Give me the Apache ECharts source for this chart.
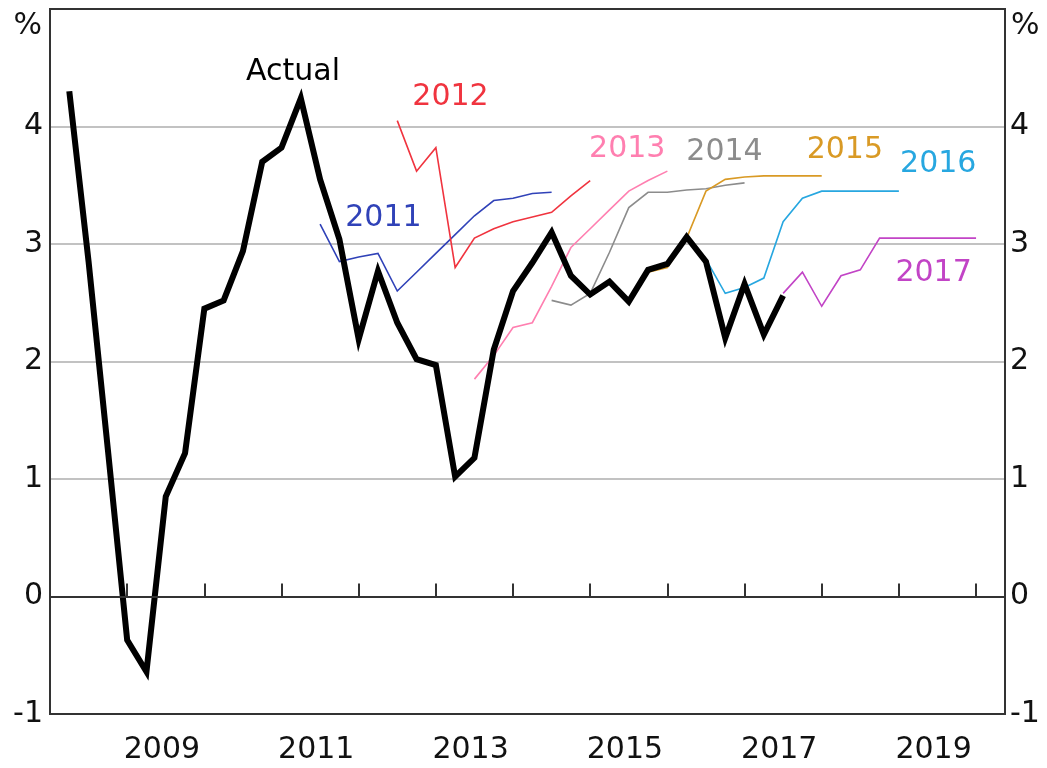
<!DOCTYPE html>
<html><head><meta charset="utf-8">
<script src="https://cdn.jsdelivr.net/npm/echarts@6/dist/echarts.min.js"></script>
<style>html,body{margin:0;padding:0;background:#fff}#c{width:1047px;height:768px}</style>
</head><body><div id="c"></div>
<script>
// Quarter-end dates (decimal years)
const quarters = [
  2008.25, 2008.5, 2008.75, 2009.0, 2009.25, 2009.5, 2009.75, 2010.0,
  2010.25, 2010.5, 2010.75, 2011.0, 2011.25, 2011.5, 2011.75, 2012.0,
  2012.25, 2012.5, 2012.75, 2013.0, 2013.25, 2013.5, 2013.75, 2014.0,
  2014.25, 2014.5, 2014.75, 2015.0, 2015.25, 2015.5, 2015.75, 2016.0,
  2016.25, 2016.5, 2016.75, 2017.0, 2017.25, 2017.5, 2017.75, 2018.0,
  2018.25, 2018.5, 2018.75, 2019.0, 2019.25, 2019.5, 2019.75, 2020.0
];

// Actual, starting 2008.25
const actualStart = 2008.25;
const actualValues = [
  4.30, 2.85, 1.25, -0.37, -0.64, 0.85, 1.22, 2.45,
  2.52, 2.94, 3.70, 3.82, 4.24, 3.55, 3.04, 2.19,
  2.77, 2.33, 2.02, 1.97, 1.02, 1.18, 2.10, 2.60,
  2.84, 3.10, 2.73, 2.57, 2.68, 2.51, 2.78, 2.83,
  3.06, 2.85, 2.20, 2.66, 2.23, 2.56
];

// Forecast vintages
const f2011Start = 2011.5;
const f2011 = [3.17, 2.85, 2.89, 2.92, 2.60, 2.76, 2.92, 3.08, 3.24, 3.37, 3.39, 3.43, 3.44];
const f2012Start = 2012.5;
const f2012 = [4.05, 3.62, 3.82, 2.80, 3.05, 3.13, 3.19, 3.23, 3.27, 3.41, 3.54];
const f2013Start = 2013.5;
const f2013 = [1.85, 2.05, 2.29, 2.33, 2.64, 2.97, 3.13, 3.29, 3.45, 3.54, 3.62];
const f2014Start = 2014.5;
const f2014 = [2.52, 2.48, 2.58, 2.93, 3.31, 3.44, 3.44, 3.46, 3.47, 3.50, 3.52];
const f2015Start = 2015.5;
const f2015 = [2.50, 2.76, 2.80, 3.05, 3.45, 3.55, 3.57, 3.58, 3.58, 3.58, 3.58];
const f2016Start = 2016.5;
const f2016 = [2.87, 2.58, 2.63, 2.71, 3.19, 3.39, 3.45, 3.45, 3.45, 3.45, 3.45];
const f2017Start = 2017.5;
const f2017 = [2.58, 2.76, 2.47, 2.73, 2.78, 3.05, 3.05, 3.05, 3.05, 3.05, 3.05];

const yearTicks = [2009, 2010, 2011, 2012, 2013, 2014, 2015, 2016, 2017, 2018, 2019, 2020];
const yearLabels = [2009, 2011, 2013, 2015, 2017, 2019];

// Series label anchor points (data coordinates)
const labelAnchors = {
  'Actual': [2011.15, 4.46],
  '2011': [2012.32, 3.22],
  '2012': [2013.19, 4.25],
  '2013': [2015.48, 3.81],
  '2014': [2016.74, 3.78],
  '2015': [2018.30, 3.80],
  '2016': [2019.51, 3.68],
  '2017': [2019.45, 2.75]
};

const FONT = 'DejaVu Sans';
const FS = 30;
const FRAME = '#333333';

function pair(start, vals) {
  const i0 = quarters.indexOf(start);
  return vals.map((v, i) => [quarters[i0 + i], v]);
}

function lineSeries(name, start, vals, color, width, z, extra) {
  const s = {
    name: name, type: 'line', data: pair(start, vals),
    showSymbol: false, symbol: 'none', z: z, animation: false, silent: true,
    lineStyle: { color: color, width: width, join: 'miter', miterLimit: 10, cap: 'butt' },
    markPoint: {
      silent: true, animation: false,
      symbol: 'rect', symbolSize: 1, itemStyle: { color: 'rgba(0,0,0,0)' },
      label: { show: true, position: 'inside', formatter: name, color: color,
               fontFamily: FONT, fontSize: FS },
      data: [{ coord: labelAnchors[name] }]
    }
  };
  return Object.assign(s, extra || {});
}

const chart = echarts.init(document.getElementById('c'), null, { renderer: 'canvas' });
chart.setOption({
  animation: false,
  backgroundColor: '#ffffff',
  grid: { left: 50, right: 42, top: 9, bottom: 54, show: true, borderColor: FRAME, borderWidth: 2, backgroundColor: 'transparent', z: 4 },
  xAxis: {
    type: 'value', min: 2008, max: 2020.375,
    axisLine: { show: true, lineStyle: { color: FRAME, width: 2 } },
    axisTick: { show: true, inside: true, length: 13, customValues: yearTicks, lineStyle: { color: FRAME, width: 2 } },
    axisLabel: { show: true, customValues: yearLabels.map(y => y + 0.45), formatter: v => String(Math.floor(v)),
                 margin: 21, color: '#111', fontFamily: FONT, fontSize: FS, hideOverlap: false },
    splitLine: { show: false }
  },
  yAxis: [
    {
      type: 'value', min: -1, max: 5, interval: 1, position: 'left',
      name: '%', nameLocation: 'end', nameGap: -17,
      nameTextStyle: { align: 'right', verticalAlign: 'middle', padding: [0, 8, 0, 0], color: '#111', fontFamily: FONT, fontSize: FS },
      axisLine: { show: false }, axisTick: { show: false },
      axisLabel: { margin: 7, color: '#111', fontFamily: FONT, fontSize: FS, formatter: v => (v === 5 ? '' : String(v)) },
      splitLine: { show: true, lineStyle: { color: '#c2c2c2', width: 2 } }
    },
    {
      type: 'value', min: -1, max: 5, interval: 1, position: 'right',
      name: '%', nameLocation: 'end', nameGap: -17,
      nameTextStyle: { align: 'left', verticalAlign: 'middle', padding: [0, 0, 0, 6], color: '#111', fontFamily: FONT, fontSize: FS },
      axisLine: { show: false }, axisTick: { show: false },
      axisLabel: { margin: 5, color: '#111', fontFamily: FONT, fontSize: FS, formatter: v => (v === 5 ? '' : String(v)) },
      splitLine: { show: false }
    }
  ],
  series: [
    lineSeries('2011', f2011Start, f2011, '#3042b8', 1.6, 2, {
      markLine: {
        silent: true, animation: false, symbol: ['none', 'none'],
        label: { show: false },
        lineStyle: { color: '#333333', width: 2, type: 'solid' },
        data: [{ yAxis: 0 }]
      }
    }),
    lineSeries('2012', f2012Start, f2012, '#f0343f', 1.6, 2),
    lineSeries('2013', f2013Start, f2013, '#ff7fb0', 1.6, 2),
    lineSeries('2014', f2014Start, f2014, '#8c8c8c', 1.6, 2),
    lineSeries('2015', f2015Start, f2015, '#d99a25', 1.6, 2),
    lineSeries('2016', f2016Start, f2016, '#27a7e0', 1.6, 2),
    lineSeries('2017', f2017Start, f2017, '#c244c6', 1.6, 2),
    lineSeries('Actual', actualStart, actualValues, '#000000', 6, 3)
  ]
});
</script>
</body></html>
